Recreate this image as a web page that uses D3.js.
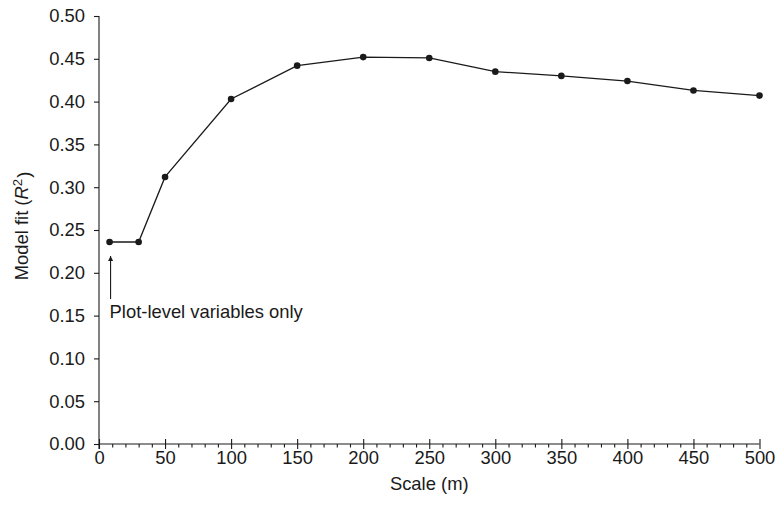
<!DOCTYPE html>
<html>
<head>
<meta charset="utf-8">
<script src="https://cdn.jsdelivr.net/npm/d3@7"></script>
<style>
  html, body { margin: 0; padding: 0; background: #fff; }
  svg text { font-family: "Liberation Sans", Arial, Helvetica, sans-serif; fill: #1a1a1a; }
</style>
</head>
<body>
<svg id="chart" width="776" height="506"></svg>
<script>
// Data
const scales = [8, 30, 50, 100, 150, 200, 250, 300, 350, 400, 450, 500];
const fitValues = [0.236, 0.236, 0.312, 0.403, 0.442, 0.452, 0.451, 0.435, 0.430, 0.424, 0.413, 0.407];
const xMajorTicks = [0, 50, 100, 150, 200, 250, 300, 350, 400, 450, 500];
const xMinorTicks = d3.range(0, 501, 10).filter(v => v % 50 !== 0);
const yTicks = [0, 0.05, 0.10, 0.15, 0.20, 0.25, 0.30, 0.35, 0.40, 0.45, 0.50];
const annotationText = "Plot-level variables only";

(function () {
const svg = d3.select("#chart");
const mLeft = 99, mRight = 759.5, mTop = 16, mBottom = 444;
const fs = 18.4;

const x = d3.scaleLinear().domain([0, 500]).range([mLeft, mRight]);
const y = d3.scaleLinear().domain([0, 0.5]).range([mBottom, mTop]);

const ink = "#1a1a1a";

// Y axis
const yAxis = svg.append("g")
  .attr("transform", `translate(${mLeft},0)`)
  .call(d3.axisLeft(y).tickValues(yTicks).tickFormat(d3.format(".2f")).tickSize(5).tickPadding(9));
yAxis.selectAll("text").style("font-size", fs + "px");

// X minor ticks
const xMinor = svg.append("g")
  .attr("transform", `translate(0,${mBottom})`)
  .call(d3.axisBottom(x).tickValues(xMinorTicks).tickFormat("").tickSize(3.5));
xMinor.select(".domain").remove();

// X axis major
const xAxis = svg.append("g")
  .attr("transform", `translate(0,${mBottom})`)
  .call(d3.axisBottom(x).tickValues(xMajorTicks).tickFormat(d3.format("d")).tickSize(5).tickPadding(2));
xAxis.selectAll("text").style("font-size", fs + "px");
xAxis.selectAll(".tick").append("line").attr("y1", 0).attr("y2", -5);

svg.selectAll(".domain, .tick line").attr("stroke", ink).attr("stroke-width", 1.1);

yAxis.select(".domain").attr("d", `M0,${y(0) + 5}V${y(0.5)}`);
xAxis.select(".domain").attr("d", `M${x(0)},0H${x(500)}`);

// Line
const line = d3.line().x((d, i) => x(scales[i])).y(d => y(d));
svg.append("path")
  .datum(fitValues)
  .attr("d", line)
  .attr("fill", "none")
  .attr("stroke", ink)
  .attr("stroke-width", 1.3);

// Points
svg.selectAll("circle.pt")
  .data(fitValues)
  .join("circle")
  .attr("class", "pt")
  .attr("cx", (d, i) => x(scales[i]))
  .attr("cy", d => y(d))
  .attr("r", 3.3)
  .attr("fill", ink);

// Annotation arrow
const ax = x(scales[0]) + 1;
svg.append("defs").append("marker")
  .attr("id", "arrow")
  .attr("viewBox", "0 0 10 10")
  .attr("refX", 10).attr("refY", 5)
  .attr("markerWidth", 7).attr("markerHeight", 5)
  .attr("markerUnits", "userSpaceOnUse")
  .attr("orient", "auto")
  .append("path").attr("d", "M0,0L10,5L0,10Z").attr("fill", ink);

svg.append("line")
  .attr("x1", ax).attr("x2", ax)
  .attr("y1", y(fitValues[0]) + 57).attr("y2", y(fitValues[0]) + 14)
  .attr("stroke", ink).attr("stroke-width", 1.1)
  .attr("marker-end", "url(#arrow)");

svg.append("text")
  .attr("x", ax - 1)
  .attr("y", y(fitValues[0]) + 76)
  .style("font-size", fs + "px")
  .text(annotationText);

// Axis titles
svg.append("text")
  .attr("x", (mLeft + mRight) / 2)
  .attr("y", 490)
  .attr("text-anchor", "middle")
  .style("font-size", fs + "px")
  .text("Scale (m)");

const yt = svg.append("text")
  .attr("transform", `translate(28,226) rotate(-90)`)
  .attr("text-anchor", "middle")
  .style("font-size", fs + "px");
yt.append("tspan").text("Model fit (");
yt.append("tspan").style("font-style", "italic").text("R");
yt.append("tspan").attr("dy", "-0.45em").style("font-size", (fs * 0.72) + "px").text("2");
yt.append("tspan").attr("dy", "0.45em").attr("dx", "1").text(")");
})();
</script>
</body>
</html>
